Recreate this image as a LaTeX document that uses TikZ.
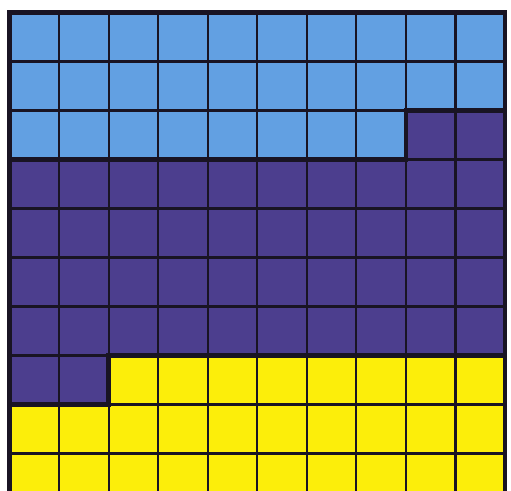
\documentclass[tikz,border=0pt]{standalone}
\definecolor{skyb}{RGB}{98,160,226}
\definecolor{purp}{RGB}{76,62,142}
\definecolor{yell}{RGB}{252,238,10}
\definecolor{gline}{RGB}{25,20,35}
\begin{document}
\begin{tikzpicture}[x=1pt,y=-1pt,
  thin grid/.style={draw=gline,line width=2.2pt},
  thick edge/.style={draw=gline,line width=4.5pt,line cap=rect,line join=miter}]
\useasboundingbox (0,0) rectangle (511,490);
\clip (0,0) rectangle (511,490);
\fill[white] (0,0) rectangle (511,490);
\def\cw{49.55}
\def\ch{49.0}
\def\xo{9.5}
\def\yo{12.5}
% blue region
\fill[skyb] (\xo,\yo) rectangle ({\xo+10*\cw},{\yo+3*\ch});
% purple region
\fill[purp] ({\xo+8*\cw},{\yo+2*\ch}) rectangle ({\xo+10*\cw},{\yo+3*\ch});
\fill[purp] (\xo,{\yo+3*\ch}) rectangle ({\xo+10*\cw},{\yo+8*\ch});
% yellow region
\fill[yell] ({\xo+2*\cw},{\yo+7*\ch}) rectangle ({\xo+10*\cw},{\yo+8*\ch});
\fill[yell] (\xo,{\yo+8*\ch}) rectangle ({\xo+10*\cw},{\yo+10*\ch});
% grid lines
\foreach \i in {1,...,9} {
  \draw[thin grid] ({\xo+\i*\cw},\yo) -- ({\xo+\i*\cw},{\yo+10*\ch});
  \draw[thin grid] (\xo,{\yo+\i*\ch}) -- ({\xo+10*\cw},{\yo+\i*\ch});
}
% region boundaries
\draw[thick edge] (\xo,{\yo+3*\ch}) -- ({\xo+8*\cw},{\yo+3*\ch}) -- ({\xo+8*\cw},{\yo+2*\ch}) -- ({\xo+10*\cw},{\yo+2*\ch});
\draw[thick edge] (\xo,{\yo+8*\ch}) -- ({\xo+2*\cw},{\yo+8*\ch}) -- ({\xo+2*\cw},{\yo+7*\ch}) -- ({\xo+10*\cw},{\yo+7*\ch});
% outer border
\draw[thick edge] (\xo,{\yo+10*\ch}) -- (\xo,\yo) -- ({\xo+10*\cw},\yo) -- ({\xo+10*\cw},{\yo+10*\ch});
\end{tikzpicture}
\end{document}
